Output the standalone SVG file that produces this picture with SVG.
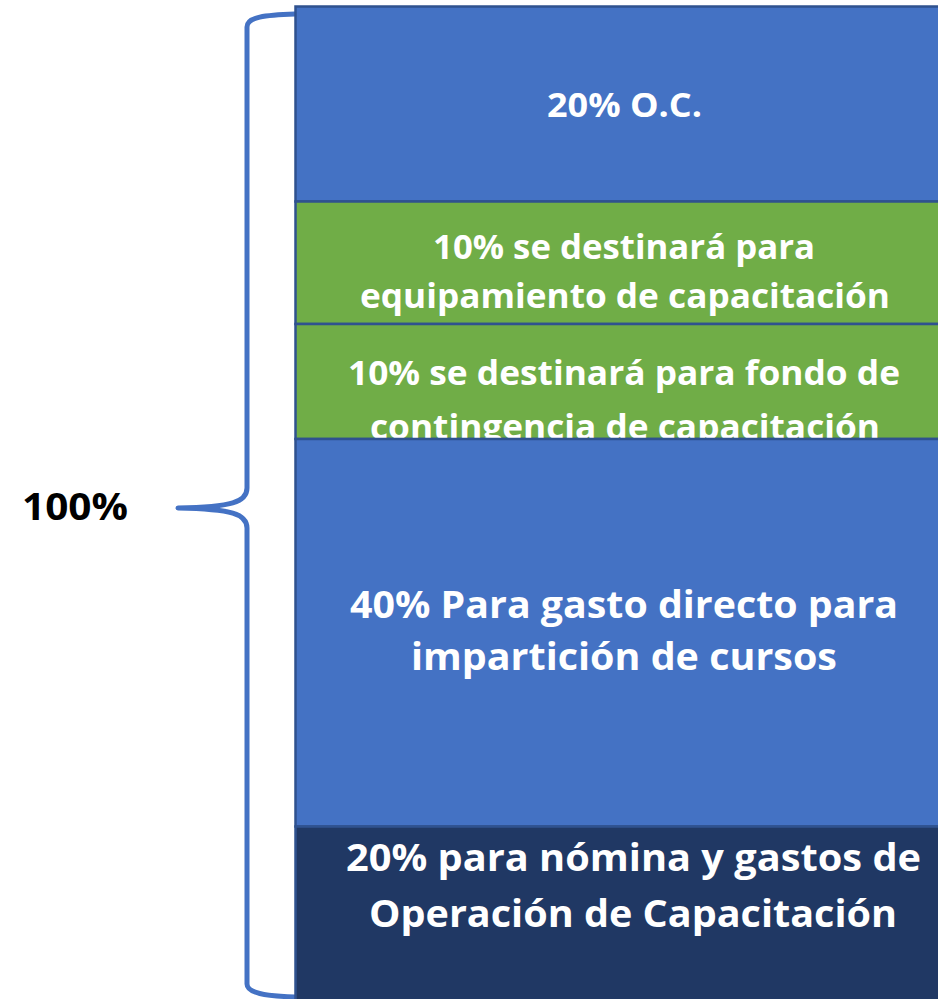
<svg xmlns="http://www.w3.org/2000/svg" width="938" height="999" viewBox="0 0 938 999">
<style>
  .box { stroke: #2F528F; stroke-width: 2.5; }
  .blue { fill: #4472C4; }
  .green { fill: #70AD47; }
  .navy { fill: #203864; }
  .t { font-family: "Open Sans", Lato, "Liberation Sans", sans-serif; font-weight: 700; fill: #FFFFFF; text-anchor: middle; }
  .brace { fill: none; stroke: #4472C4; stroke-width: 5; stroke-linecap: round; stroke-linejoin: round; }
</style>
<defs>
  <clipPath id="clip3"><rect x="295" y="324" width="660" height="114"/></clipPath>
</defs>
<rect width="938" height="999" fill="#FFFFFF"/>

<g id="connectors">
  <path class="brace" d="M 295,14 C 265,15 247,17 247,27 L 247,488 C 247,502 232,507 178,508 C 232,509 247,514 247,528 L 247,984 C 247,993 265,996 295,997"/>
</g>

<g id="label-100">
  <text x="75" y="520" font-family="'Open Sans', Lato, 'Liberation Sans', sans-serif" font-weight="700" font-size="37" fill="#000000" text-anchor="middle" textLength="106" lengthAdjust="spacingAndGlyphs">100%</text>
</g>

<g id="box-oc">
  <rect class="box blue" x="295.5" y="6.5" width="660" height="195"/>
  <text class="t" x="624.5" y="117" font-size="34" textLength="155" lengthAdjust="spacingAndGlyphs">20% O.C.</text>
</g>

<g id="box-equipamiento">
  <rect class="box green" x="295.5" y="201.5" width="660" height="122.5"/>
  <text class="t" x="624" y="259" font-size="34" textLength="382" lengthAdjust="spacingAndGlyphs">10% se destinará para</text>
  <text class="t" x="625" y="308" font-size="34" textLength="530" lengthAdjust="spacingAndGlyphs">equipamiento de capacitación</text>
</g>

<g id="box-contingencia">
  <rect class="box green" x="295.5" y="324" width="660" height="115"/>
  <g clip-path="url(#clip3)">
    <text class="t" x="624" y="385" font-size="34" textLength="552" lengthAdjust="spacingAndGlyphs">10% se destinará para fondo de</text>
    <text class="t" x="625" y="439" font-size="34" textLength="510" lengthAdjust="spacingAndGlyphs">contingencia de capacitación</text>
  </g>
</g>

<g id="box-gasto-directo">
  <rect class="box blue" x="295.5" y="439" width="660" height="387.5"/>
  <text class="t" x="624" y="618" font-size="37" textLength="548" lengthAdjust="spacingAndGlyphs">40% Para gasto directo para</text>
  <text class="t" x="624" y="670" font-size="37" textLength="426" lengthAdjust="spacingAndGlyphs">impartición de cursos</text>
</g>

<g id="box-nomina">
  <rect class="box navy" x="295.5" y="826.5" width="660" height="180"/>
  <text class="t" x="633.5" y="871" font-size="37" textLength="575" lengthAdjust="spacingAndGlyphs">20% para nómina y gastos de</text>
  <text class="t" x="633" y="927" font-size="37" textLength="528" lengthAdjust="spacingAndGlyphs">Operación de Capacitación</text>
</g>
</svg>
